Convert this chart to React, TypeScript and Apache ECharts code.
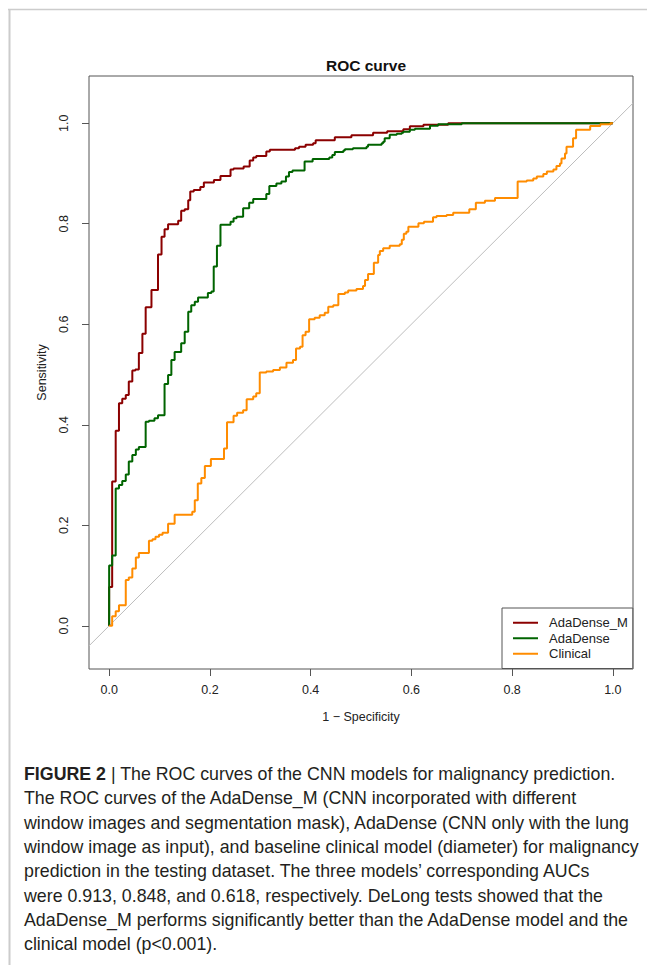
import React, { useEffect, useRef } from 'react';
import * as echarts from 'echarts';

const seriesNames = ['AdaDense_M', 'AdaDense', 'Clinical'];
const seriesColors = ['#8b0000', '#006400', '#ff8c00'];

// [1 - specificity, sensitivity] at the top of each vertical rise of the ROC step curve
const adaDenseM: [number, number][] = [
  [0, 0], [0, 0.077], [0.006, 0.287], [0.013, 0.388], [0.0195, 0.443], [0.026, 0.452], [0.033, 0.459],
  [0.039, 0.486], [0.046, 0.508], [0.052, 0.51], [0.059, 0.543], [0.066, 0.581], [0.0725, 0.634],
  [0.084, 0.668], [0.097, 0.739], [0.104, 0.774], [0.11, 0.789], [0.117, 0.799], [0.137, 0.806],
  [0.143, 0.826], [0.15, 0.829], [0.157, 0.847], [0.161, 0.864], [0.168, 0.867], [0.181, 0.873],
  [0.188, 0.882], [0.208, 0.887], [0.221, 0.895], [0.241, 0.908], [0.247, 0.91], [0.267, 0.914],
  [0.279, 0.926], [0.286, 0.932], [0.292, 0.935], [0.312, 0.944], [0.319, 0.947], [0.369, 0.95],
  [0.377, 0.953], [0.39, 0.957], [0.405, 0.96], [0.41, 0.966], [0.448, 0.972], [0.481, 0.976],
  [0.524, 0.981], [0.552, 0.984], [0.584, 0.988], [0.597, 0.994], [0.624, 0.997], [0.673, 1.0], [1.0, 1.0],
];

const adaDense: [number, number][] = [
  [0, 0], [0, 0.12], [0.006, 0.14], [0.013, 0.273], [0.0195, 0.28], [0.026, 0.288], [0.033, 0.301],
  [0.039, 0.327], [0.046, 0.34], [0.053, 0.351], [0.059, 0.356], [0.0725, 0.406], [0.079, 0.408],
  [0.09, 0.413], [0.097, 0.419], [0.11, 0.481], [0.117, 0.499], [0.1235, 0.529], [0.13, 0.545],
  [0.143, 0.562], [0.15, 0.585], [0.157, 0.625], [0.163, 0.638], [0.17, 0.645], [0.1765, 0.653],
  [0.196, 0.662], [0.203, 0.665], [0.2076, 0.715], [0.214, 0.756], [0.221, 0.798], [0.241, 0.804],
  [0.247, 0.811], [0.253, 0.814], [0.266, 0.831], [0.278, 0.842], [0.286, 0.849], [0.312, 0.859],
  [0.318, 0.875], [0.332, 0.88], [0.342, 0.884], [0.351, 0.894], [0.357, 0.903], [0.364, 0.906],
  [0.388, 0.924], [0.404, 0.929], [0.437, 0.932], [0.443, 0.937], [0.448, 0.943], [0.465, 0.946],
  [0.468, 0.948], [0.484, 0.95], [0.511, 0.953], [0.514, 0.957], [0.541, 0.96], [0.544, 0.963],
  [0.547, 0.97], [0.557, 0.977], [0.571, 0.979], [0.581, 0.981], [0.584, 0.983], [0.597, 0.987],
  [0.607, 0.989], [0.637, 0.995], [0.653, 0.998], [0.7, 1.0], [1.0, 1.0],
];

const clinical: [number, number][] = [
  [0, 0], [0.006, 0.019], [0.013, 0.029], [0.0195, 0.041], [0.033, 0.091], [0.039, 0.096], [0.046, 0.114],
  [0.053, 0.136], [0.059, 0.145], [0.079, 0.169], [0.086, 0.172], [0.092, 0.177], [0.099, 0.181],
  [0.106, 0.185], [0.117, 0.203], [0.13, 0.221], [0.165, 0.227], [0.17, 0.25], [0.176, 0.283],
  [0.183, 0.294], [0.19, 0.318], [0.202, 0.332], [0.228, 0.353], [0.234, 0.405], [0.247, 0.418],
  [0.254, 0.424], [0.266, 0.429], [0.273, 0.451], [0.286, 0.456], [0.292, 0.4625], [0.299, 0.504],
  [0.312, 0.506], [0.3255, 0.509], [0.339, 0.514], [0.352, 0.5235], [0.365, 0.529], [0.371, 0.552],
  [0.379, 0.5553], [0.384, 0.578], [0.39, 0.585], [0.397, 0.61], [0.408, 0.613], [0.418, 0.618],
  [0.428, 0.623], [0.435, 0.635], [0.445, 0.638], [0.455, 0.66], [0.468, 0.663], [0.4745, 0.667],
  [0.491, 0.67], [0.504, 0.676], [0.508, 0.688], [0.514, 0.7], [0.5255, 0.7226], [0.534, 0.738],
  [0.5374, 0.746], [0.544, 0.751], [0.557, 0.756], [0.577, 0.759], [0.581, 0.768], [0.585, 0.78],
  [0.59, 0.784], [0.594, 0.794], [0.614, 0.801], [0.625, 0.804], [0.643, 0.813], [0.65, 0.8155],
  [0.67, 0.8175], [0.683, 0.822], [0.715, 0.829], [0.728, 0.842], [0.746, 0.846], [0.766, 0.851],
  [0.811, 0.884], [0.829, 0.886], [0.842, 0.89], [0.849, 0.894], [0.862, 0.899], [0.869, 0.904],
  [0.882, 0.908], [0.888, 0.915], [0.895, 0.92], [0.898, 0.93], [0.905, 0.94], [0.908, 0.953],
  [0.921, 0.97], [0.927, 0.987], [0.955, 0.9946], [0.975, 0.998], [0.995, 1.0], [1.0, 1.0],
];

const chanceLine: [number, number][] = [[-0.04, -0.04], [1.04, 1.04]];
const tickValues = [0, 0.2, 0.4, 0.6, 0.8, 1.0];

const chartTitle = 'ROC curve';
const xAxisTitle = '1 \u2212 Specificity';
const yAxisTitle = 'Sensitivity';

const captionLines = [
  '{b|FIGURE 2} | The ROC curves of the CNN models for malignancy prediction.',
  'The ROC curves of the AdaDense_M (CNN incorporated with different',
  'window images and segmentation mask), AdaDense (CNN only with the lung',
  'window image as input), and baseline clinical model (diameter) for malignancy',
  'prediction in the testing dataset. The three models\u2019 corresponding AUCs',
  'were 0.913, 0.848, and 0.618, respectively. DeLong tests showed that the',
  'AdaDense_M performs significantly better than the AdaDense model and the',
  'clinical model (p<0.001).',
];

const FONT = '"Liberation Sans", Arial, Helvetica, sans-serif';

export default function App() {
  const ref = useRef<HTMLDivElement>(null);

  useEffect(() => {
    if (!ref.current) return;
    const chart = echarts.init(ref.current, null, { renderer: 'svg' });
    const curves = [adaDenseM, adaDense, clinical];

    const captionGraphics = captionLines.map((line, i) => ({
      type: 'text',
      x: 24,
      y: 774 + i * 24.3,
      style: {
        text: line,
        fontSize: 17.8,
        fontFamily: FONT,
        fill: '#231f20',
        verticalAlign: 'middle',
        align: 'left',
        rich: {
          b: { fontSize: 17.8, fontFamily: FONT, fontWeight: 'bold', fill: '#231f20' },
        },
      },
    }));

    chart.setOption({
      animation: false,
      backgroundColor: '#ffffff',
      title: {
        text: chartTitle,
        left: 361,
        top: 52,
        textAlign: 'center',
        textStyle: { fontSize: 15.5, fontWeight: 'bold', fontFamily: FONT, color: '#111' },
      },
      grid: {
        left: 89,
        right: 14,
        top: 76,
        bottom: 296,
        show: true,
        borderColor: '#555',
        borderWidth: 1,
        backgroundColor: 'transparent',
      },
      legend: {
        data: seriesNames,
        orient: 'vertical',
        left: 502,
        top: 608,
        icon: 'rect',
        itemWidth: 25,
        itemHeight: 2,
        itemGap: 0,
        padding: [7, 5, 7, 11],
        borderColor: '#555',
        borderWidth: 1,
        backgroundColor: '#fff',
        selectedMode: false,
        textStyle: { fontSize: 13, lineHeight: 15.5, color: '#222', fontFamily: FONT, padding: [0, 0, 0, 6] },
      },
      xAxis: {
        type: 'value',
        min: -0.04,
        max: 1.04,
        splitLine: { show: false },
        axisLine: { show: false, onZero: false },
        axisTick: { show: true, customValues: tickValues, length: 7, lineStyle: { color: '#555' } },
        axisLabel: {
          customValues: tickValues,
          formatter: (v: number) => v.toFixed(1),
          margin: 14,
          fontSize: 12.5,
          color: '#222',
          fontFamily: FONT,
        },
        name: xAxisTitle,
        nameLocation: 'middle',
        nameGap: 41,
        nameTextStyle: { fontSize: 12.5, color: '#222', fontFamily: FONT },
      },
      yAxis: {
        type: 'value',
        min: -0.086,
        max: 1.094,
        splitLine: { show: false },
        axisLine: { show: false, onZero: false },
        axisTick: { show: true, customValues: tickValues, length: 7, lineStyle: { color: '#555' } },
        axisLabel: {
          customValues: tickValues,
          formatter: (v: number) => v.toFixed(1),
          rotate: 90,
          margin: 19,
          fontSize: 12.5,
          color: '#222',
          fontFamily: FONT,
        },
        name: yAxisTitle,
        nameLocation: 'middle',
        nameGap: 41,
        nameTextStyle: { fontSize: 12.5, color: '#222', fontFamily: FONT },
      },
      series: [
        {
          type: 'line',
          data: chanceLine,
          symbol: 'none',
          silent: true,
          lineStyle: { color: '#bdbdbd', width: 1 },
          z: 1,
        },
        ...seriesNames.map((name, i) => ({
          name,
          type: 'line',
          data: curves[i],
          step: 'end',
          symbol: 'none',
          showSymbol: false,
          lineStyle: { color: seriesColors[i], width: 2 },
          itemStyle: { color: seriesColors[i] },
          z: 2,
        })),
      ],
      graphic: [
        { type: 'line', shape: { x1: 8, y1: 9.5, x2: 647, y2: 9.5 }, style: { stroke: '#cccccc', lineWidth: 1.5 } },
        { type: 'line', shape: { x1: 9.5, y1: 9, x2: 9.5, y2: 965 }, style: { stroke: '#cccccc', lineWidth: 2 } },
        ...captionGraphics,
      ],
    });

    return () => chart.dispose();
  }, []);

  return (
    <div
      ref={ref}
      style={{ position: 'absolute', left: 0, top: 0, width: 647, height: 965 }}
    />
  );
}
